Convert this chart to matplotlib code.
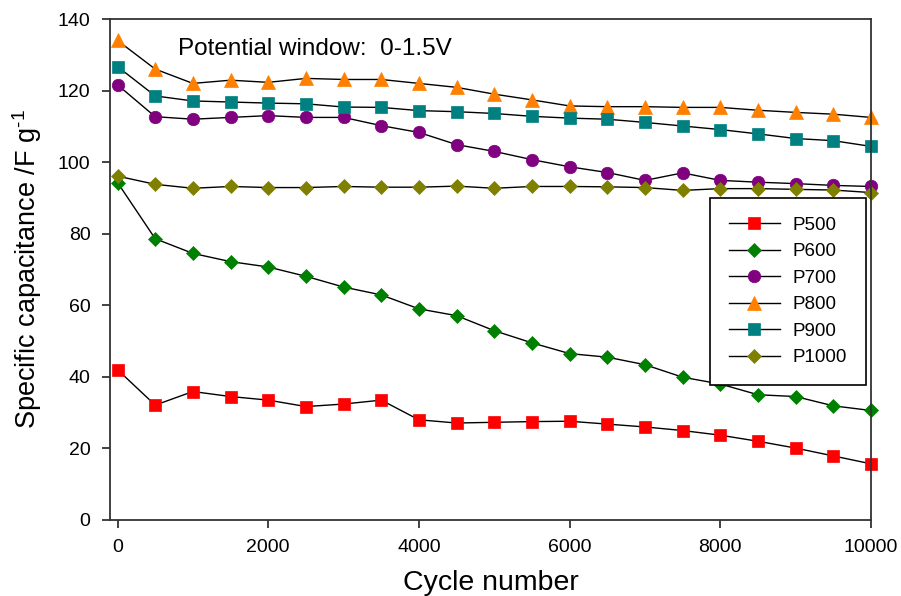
import matplotlib
matplotlib.use("Agg")
import matplotlib.pyplot as plt

plt.rcParams['font.family'] = ['Liberation Sans', 'DejaVu Sans']
plt.rcParams['mathtext.fontset'] = 'custom'
plt.rcParams['mathtext.rm'] = 'Liberation Sans'
plt.rcParams['mathtext.it'] = 'Liberation Sans'

cycles = list(range(0, 10001, 500))

p500 = [42.0, 32.1, 35.9, 34.5, 33.5, 31.7, 32.4, 33.5, 28.0, 27.1, 27.3, 27.5, 27.6,
        26.8, 26.0, 25.0, 23.7, 22.0, 20.1, 17.9, 15.7]
p600 = [94.3, 78.6, 74.5, 72.2, 70.7, 68.1, 65.1, 62.9, 59.0, 57.1, 52.9, 49.5, 46.5,
        45.5, 43.4, 39.9, 38.0, 35.0, 34.5, 31.9, 30.6]
p700 = [121.6, 112.7, 112.0, 112.5, 113.0, 112.5, 112.5, 110.2, 108.3, 104.9, 103.0, 100.7, 98.7,
        97.1, 94.9, 97.0, 94.9, 94.4, 94.0, 93.5, 93.2]
p800 = [134.0, 126.0, 122.0, 122.9, 122.3, 123.4, 123.1, 123.1, 122.0, 120.9, 119.0, 117.4, 115.7,
        115.5, 115.5, 115.3, 115.3, 114.5, 113.9, 113.4, 112.5]
p900 = [126.7, 118.5, 117.1, 116.8, 116.5, 116.3, 115.4, 115.3, 114.4, 114.1, 113.6, 112.8, 112.3,
        112.0, 111.1, 110.1, 109.1, 107.9, 106.6, 106.0, 104.4]
p1000 = [96.1, 93.8, 92.7, 93.2, 92.9, 92.9, 93.2, 93.0, 93.0, 93.3, 92.7, 93.2, 93.2,
         93.1, 92.9, 92.1, 92.6, 92.6, 92.4, 92.2, 91.5]

labels = ['P500', 'P600', 'P700', 'P800', 'P900', 'P1000']
series = [p500, p600, p700, p800, p900, p1000]
colors = ['#FF0000', '#008000', '#800080', '#FF8000', '#008080', '#808000']
markers = ['s', 'D', 'o', '^', 's', 'D']
msizes = [8.5, 7.0, 9.0, 10.0, 8.5, 7.0]

fig = plt.figure(figsize=(9.01, 5.96), dpi=100)
ax = fig.add_axes([110/901, 76/596, 761/901, 501/596])

for ys, lab, c, m, ms in zip(series, labels, colors, markers, msizes):
    ax.plot(cycles, ys, color='black', lw=1.0, marker=m, markersize=ms,
            markerfacecolor=c, markeredgecolor=c, markeredgewidth=0.5,
            label=lab, clip_on=False)

ax.set_xlim(-100, 10000)
ax.set_ylim(0, 140)
ax.set_xticks(range(0, 10001, 2000))
ax.set_yticks(range(0, 141, 20))
ax.tick_params(direction='out', length=6, width=1.2, labelsize=14, pad=8,
               colors='#222222', labelcolor='black')
ax.tick_params(top=False, right=False)
for sp in ax.spines.values():
    sp.set_linewidth(1.3)
    sp.set_color('#333333')

ax.set_xlabel('Cycle number', fontsize=20.5, labelpad=10)
ax.set_ylabel(r'Specific capacitance /F g$^{\text{-1}}$', fontsize=19.5, labelpad=10)

ax.text(0.09, 0.94, 'Potential window:  0-1.5V', transform=ax.transAxes,
        fontsize=17.5, ha='left', va='center')

leg = ax.legend(loc='upper right', bbox_to_anchor=(0.9934, 0.6427), fontsize=13.5,
                frameon=True, fancybox=False, edgecolor='black', framealpha=1,
                handlelength=2.7, labelspacing=0.5, borderpad=1.0, borderaxespad=0,
                handletextpad=0.7)
leg.get_frame().set_linewidth(1.2)

fig.savefig('out.png', dpi=100)
